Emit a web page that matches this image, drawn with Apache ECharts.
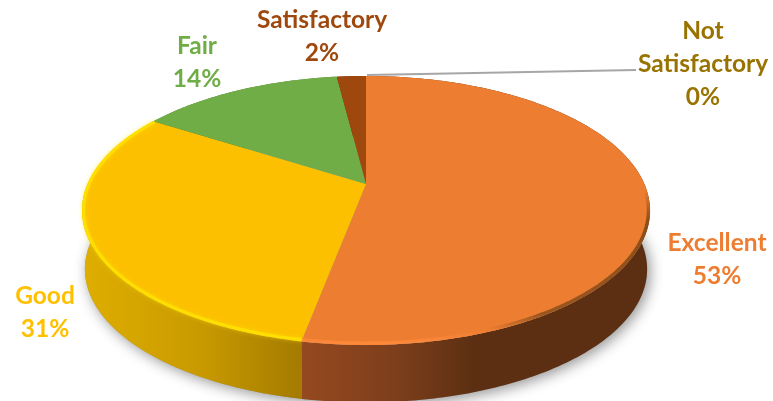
<!DOCTYPE html>
<html>
<head>
<meta charset="utf-8">
<script src="https://cdn.jsdelivr.net/npm/echarts@6/dist/echarts.min.js"></script>
<style>html,body{margin:0;padding:0;background:#fff}#c{width:773px;height:401px}</style>
</head>
<body>
<div id="c"></div>
<script>
const categories = ['Excellent', 'Good', 'Fair', 'Satisfactory', 'Not\nSatisfactory'];
const shares = [53, 31, 14, 2, 0];
const faceColors = ['#ed7d31', '#fcc000', '#70ad47', '#9e480e', '#997300'];
const rimColors = ['#ed7d31', '#ffdf00', '#70ad47', '#9e480e', '#997300'];
const labelColors = ['#ed7d31', '#ffc000', '#70ad47', '#9e480e', '#997300'];
const labelAnchors = [[717, 260], [45, 313], [197, 63], [322, 37], [703, 64]];
const wallStops = [
  [[300, '#96491f'], [400, '#7b3e1b'], [475, '#5c2f12'], [650, '#5c2f12']],
  [[82, '#dfae00'], [200, '#c99a00'], [300, '#a57b00']],
  [[150, '#4f7a32'], [340, '#4f7a32']],
  [[335, '#6e320a'], [366, '#6e320a']],
  [[366, '#6b5100'], [367, '#6b5100']]
];
const top3d = {a: 278.4, b: 129.3, k: 0.197, cx: 366, cy: 184};
const bottom3d = {a: 275.6, b: 128, k: 0.197, cx: 366, cy: 243};
const excellentRimStart = 1.6;

const total = shares.reduce((s, v) => s + v, 0);
function project(p, ang) {
  const X = Math.sin(ang), Y = Math.cos(ang), d = 1 + p.k * Y;
  return [p.cx + p.a * X / d, p.cy - p.b * Y / d];
}
function arc(p, a0, a1) {
  const n = Math.max(2, Math.ceil(Math.abs(a1 - a0) / 0.015));
  const pts = [];
  for (let i = 0; i <= n; i++) pts.push(project(p, a0 + (a1 - a0) * i / n));
  return pts;
}
function horizGrad(stops) {
  const x0 = stops[0][0], x1 = stops[stops.length - 1][0];
  return new echarts.graphic.LinearGradient(x0, 0, x1, 0,
    stops.map(s => ({offset: (s[0] - x0) / (x1 - x0), color: s[1]})), true);
}
function renderItem(params, api) {
  const i = api.value(0), v = api.value(1);
  let before = 0;
  for (let j = 0; j < i; j++) before += shares[j];
  const a0 = before / total * 2 * Math.PI, a1 = (before + v) / total * 2 * Math.PI;
  const children = [];
  if (i === 0) {
    children.push({
      type: 'polygon', z2: 1, silent: true,
      shape: {points: arc(bottom3d, 0, 2 * Math.PI)},
      style: {fill: '#999', shadowBlur: 14, shadowColor: 'rgba(0,0,0,0.42)', shadowOffsetX: 3, shadowOffsetY: 3}
    });
  }
  if (v > 0) {
    const outer = arc(top3d, a0, a1), low = arc(bottom3d, a0, a1).reverse();
    children.push({
      type: 'polygon', z2: 2, silent: true,
      shape: {points: outer.concat(low)},
      style: {fill: horizGrad(wallStops[i])}
    });
    children.push({
      type: 'polygon', z2: 3, silent: true,
      shape: {points: [[top3d.cx, top3d.cy]].concat(outer)},
      style: {fill: faceColors[i]}
    });
    let rim = rimColors[i];
    if (i === 0) {
      rim = new echarts.graphic.LinearGradient(0, 190, 0, 345, [
        {offset: 0, color: 'rgba(122,68,20,0)'}, {offset: 0.2, color: 'rgba(122,68,20,0.85)'},
        {offset: 0.8, color: 'rgba(140,78,28,0.85)'}, {offset: 0.9, color: 'rgba(237,125,49,1)'},
        {offset: 1, color: '#ff8a3c'}], true);
    }
    if (i < 2) {
      const inset = Object.assign({}, top3d, {a: top3d.a - 1.5, b: top3d.b - 1.5});
      const arcIn = arc(inset, i === 0 ? excellentRimStart : a0, a1);
      children.push({
        type: 'polyline', z2: 4, silent: true,
        shape: {points: arcIn},
        style: i === 1
          ? {fill: null, stroke: rim, lineWidth: 3, shadowBlur: 4, shadowColor: 'rgba(255,225,0,0.6)'}
          : {fill: null, stroke: rim, lineWidth: 3.5}
      });
    }
  }
  const anchor = labelAnchors[i];
  children.push({
    type: 'text', z2: 6, silent: true, x: anchor[0], y: anchor[1],
    style: {
      text: categories[i] + '\n' + v + '%',
      fill: labelColors[i], align: 'center', verticalAlign: 'middle',
      font: 'bold 24.5px Lato', lineHeight: 33
    }
  });
  if (v === 0) {
    children.push({
      type: 'polyline', z2: 5, silent: true,
      shape: {points: [project(top3d, a0).map((c, n) => c + (n ? -1 : 1)), [636, 70]]},
      style: {fill: null, stroke: '#a6a6a6', lineWidth: 2}
    });
  }
  return {type: 'group', children};
}
const chart = echarts.init(document.getElementById('c'), null, {renderer: 'canvas'});
chart.setOption({
  animation: false,
  backgroundColor: '#ffffff',
  series: [{
    type: 'custom',
    coordinateSystem: 'none',
    renderItem,
    clip: false,
    data: shares.map((v, i) => [i, v, categories[i]])
  }]
});
</script>
</body>
</html>
